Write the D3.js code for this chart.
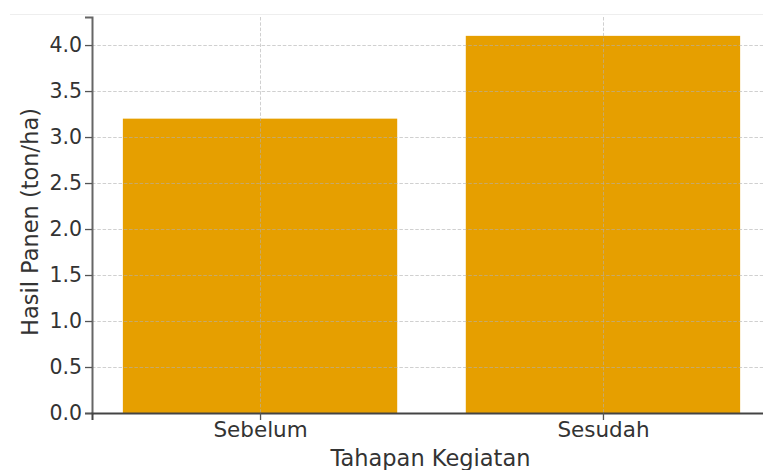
<!DOCTYPE html>
<html>
<head>
<meta charset="utf-8">
<script src="https://cdn.jsdelivr.net/npm/d3@7"></script>
<style>
  html, body { margin: 0; padding: 0; background: #fff; }
  svg { display: block; }
  text { font-family: "DejaVu Sans", sans-serif; }
</style>
</head>
<body>
<svg id="chart" width="763" height="470"></svg>
<script>
const categories = ["Sebelum", "Sesudah"];
const values = [3.2, 4.1];
const yTicks = [0, 0.5, 1.0, 1.5, 2.0, 2.5, 3.0, 3.5, 4.0];
const xLabel = "Tahapan Kegiatan";
const yLabel = "Hasil Panen (ton/ha)";

(function () {
const svg = d3.select("#chart");
const W = 763, H = 470;
const pLeft = 92, pRight = 771, pTop = 17, pBottom = 413;

const x = d3.scaleLinear().domain([-0.49, categories.length - 1 + 0.49]).range([pLeft, pRight]);
const y = d3.scaleLinear().domain([0, d3.max(values) * 1.05]).range([pBottom, pTop]);

// faint top border line
svg.append("line").attr("x1", 10).attr("x2", W).attr("y1", 14.5).attr("y2", 14.5)
  .attr("stroke", "#eeeeee").attr("stroke-width", 1);

// bars
svg.append("g").selectAll("rect").data(values).join("rect")
  .attr("x", (d, i) => x(i - 0.4))
  .attr("width", (d, i) => x(i + 0.4) - x(i - 0.4))
  .attr("y", d => y(d))
  .attr("height", d => y(0) - y(d))
  .attr("fill", "#E69F00");

// grid (drawn above bars)
const grid = svg.append("g").attr("stroke", "#b0b0b0").attr("stroke-opacity", 0.6)
  .attr("stroke-width", 1).attr("stroke-dasharray", "3.5,1.8");
grid.selectAll(".hg").data(yTicks).join("line")
  .attr("x1", pLeft).attr("x2", pRight)
  .attr("y1", d => Math.round(y(d)) + 0.5).attr("y2", d => Math.round(y(d)) + 0.5);
grid.selectAll(".vg").data(categories).join("line")
  .attr("x1", (d, i) => Math.round(x(i)) + 0.5).attr("x2", (d, i) => Math.round(x(i)) + 0.5)
  .attr("y1", pTop).attr("y2", pBottom);

// y axis
const yAxis = d3.axisLeft(y).tickValues(yTicks).tickFormat(d3.format(".1f")).tickSize(7).tickPadding(3);
const gy = svg.append("g").attr("transform", `translate(${pLeft},0)`).call(yAxis);
gy.select(".domain").attr("stroke", "#666").attr("stroke-width", 2);
gy.selectAll(".tick line").attr("stroke", "#555").attr("stroke-width", 1.3);
gy.selectAll(".tick text").attr("fill", "#333").style("font-size", "20.5px")
  .style("font-family", "DejaVu Sans, sans-serif");

// x axis
const xAxis = d3.axisBottom(x).tickValues(categories.map((d, i) => i))
  .tickFormat(i => categories[i]).tickSize(7).tickPadding(2);
const gx = svg.append("g").attr("transform", `translate(0,${pBottom})`).call(xAxis);
gx.select(".domain").attr("stroke", "#444").attr("stroke-width", 2);
gx.selectAll(".tick line").attr("stroke", "#555").attr("stroke-width", 1.3);
gx.selectAll(".tick text").attr("fill", "#333").style("font-size", "21.5px")
  .style("font-family", "DejaVu Sans, sans-serif");

// axis labels
svg.append("text").attr("x", (pLeft + pRight) / 2 - 1).attr("y", 466)
  .attr("text-anchor", "middle").attr("fill", "#333").style("font-size", "22.5px")
  .text(xLabel);
svg.append("text").attr("transform", `translate(38,${(pTop + pBottom) / 2 + 7}) rotate(-90)`)
  .attr("text-anchor", "middle").attr("fill", "#333").style("font-size", "22.5px")
  .text(yLabel);
})();
</script>
</body>
</html>
